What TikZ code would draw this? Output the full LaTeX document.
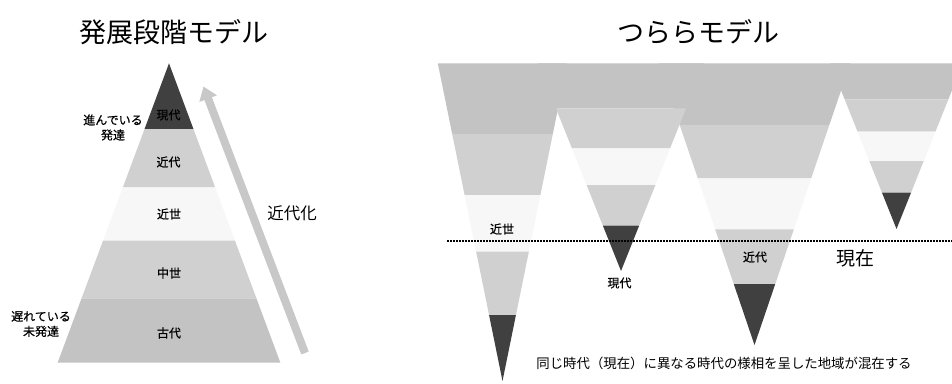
\documentclass[tikz,border=0pt]{standalone}
\usepackage{fontspec}
\setmainfont{Noto Sans CJK JP}
\newfontfamily\lblfont[FakeBold=0.5]{Noto Sans CJK JP}
\usetikzlibrary{arrows.meta}
\definecolor{gA}{HTML}{C3C3C3}
\definecolor{gB}{HTML}{D0D0D0}
\definecolor{gC}{HTML}{F7F7F7}
\definecolor{gD}{HTML}{404040}
\definecolor{arrowgray}{HTML}{C8C8C8}
% pyramid band: y1 y2 colour (apex 169,63.3 ; slope 0.372)
\newcommand\PyrBand[3]{\fill[#3] ({169-0.372*(#1-63.3)},#1) -- ({169+0.372*(#1-63.3)},#1) -- ({169+0.372*(#2-63.3)},#2) -- ({169-0.372*(#2-63.3)},#2) -- cycle;}
% icicle band: tipx tipy slope y1 y2 colour
\newcommand\IcBand[6]{\fill[#6] ({#1-#3*(#2-#4)},#4) -- ({#1+#3*(#2-#4)},#4) -- ({#1+#3*(#2-#5)},#5) -- ({#1-#3*(#2-#5)},#5) -- cycle;}
\begin{document}
\begin{tikzpicture}[x=1bp,y=-1bp,
  lbl/.style={font=\lblfont\fontsize{12bp}{15bp}\selectfont, align=center, inner sep=0pt, text=black},
  ttl/.style={font=\fontsize{27bp}{30bp}\selectfont, inner sep=0pt},
  midlbl/.style={font=\fontsize{16.5bp}{20bp}\selectfont, inner sep=0pt},
  nowlbl/.style={font=\fontsize{19bp}{22bp}\selectfont, inner sep=0pt},
  captlbl/.style={font=\fontsize{13.4bp}{16bp}\selectfont, inner sep=0pt},
  bigarrow/.style={draw=arrowgray, line width=8bp, -{Triangle[width=18bp,length=13bp]}},
  nowline/.style={draw=black, line width=1.6bp, dash pattern=on 1.6bp off 1.4bp}]
\useasboundingbox (0,0) rectangle (952,383);
\fill[white] (0,0) rectangle (952,383);
\begin{scope}
\clip (0,0) rectangle (952,383);
% ---------- pyramid ----------
\PyrBand{63.3}{129}{gD}
\PyrBand{129}{187.3}{gB}
\PyrBand{187.3}{240.7}{gC}
\PyrBand{240.7}{298.3}{gB}
\PyrBand{298.3}{362.7}{gA}
% ---------- icicles ----------
% icicle 1
\IcBand{502.5}{381}{0.2037}{63.3}{134}{gA}
\IcBand{502.5}{381}{0.2037}{134}{195}{gB}
\IcBand{502.5}{381}{0.2037}{195}{251.7}{gC}
\IcBand{502.5}{381}{0.2037}{251.7}{315}{gB}
\IcBand{502.5}{381}{0.2037}{315}{381}{gD}
% icicle 3
\IcBand{754.5}{345}{0.34}{63.3}{125}{gA}
\IcBand{754.5}{345}{0.34}{125}{178.3}{gB}
\IcBand{754.5}{345}{0.34}{178.3}{229.3}{gC}
\IcBand{754.5}{345}{0.34}{229.3}{284}{gB}
\IcBand{754.5}{345}{0.34}{284}{345}{gD}
% icicle 4
\IcBand{896.5}{229}{0.4}{63.3}{99.3}{gA}
\IcBand{896.5}{229}{0.4}{99.3}{131.7}{gB}
\IcBand{896.5}{229}{0.4}{131.7}{161}{gC}
\IcBand{896.5}{229}{0.4}{161}{192.7}{gB}
\IcBand{896.5}{229}{0.4}{192.7}{229}{gD}
% icicle 2
\IcBand{621}{271}{0.40}{63.3}{108.3}{gA}
\IcBand{621}{271}{0.40}{108.3}{148.3}{gB}
\IcBand{621}{271}{0.40}{148.3}{185}{gC}
\IcBand{621}{271}{0.40}{185}{225.7}{gB}
\IcBand{621}{271}{0.40}{225.7}{271}{gD}
\end{scope}
% ---------- arrow ----------
\coordinate (arrtail) at (305,353);
\coordinate (arrhead) at (203.5,86.5);
\draw[bigarrow] (arrtail) -- (arrhead);
% ---------- present line ----------
\coordinate (nowL) at (447,241);
\coordinate (nowR) at (952,241);
\draw[nowline] (nowL) -- (nowR);
% ---------- texts ----------
\node[ttl] (t1) at (174,32) {発展段階モデル};
\node[ttl] (t2) at (698,32) {つららモデル};
\node[lbl] (p1) at (168.5,115) {現代};
\node[lbl] (p2) at (168.5,162) {近代};
\node[lbl] (p3) at (169,214) {近世};
\node[lbl] (p4) at (169,273) {中世};
\node[lbl] (p5) at (169,333) {古代};
\node[lbl] (adv) at (113,127.5) {進んでいる\\発達};
\node[lbl] (back) at (41,324) {遅れている\\未発達};
\node[midlbl] (mod) at (292,213) {近代化};
\node[lbl] (i1) at (502,229) {近世};
\node[lbl] (i2) at (619.5,283) {現代};
\node[lbl] (i3) at (755,257) {近代};
\node[nowlbl] (pres) at (855,258) {現在};
\node[captlbl] (capt) at (724,363) {同じ時代（現在）に異なる時代の様相を呈した地域が混在する};
\end{tikzpicture}
\end{document}
